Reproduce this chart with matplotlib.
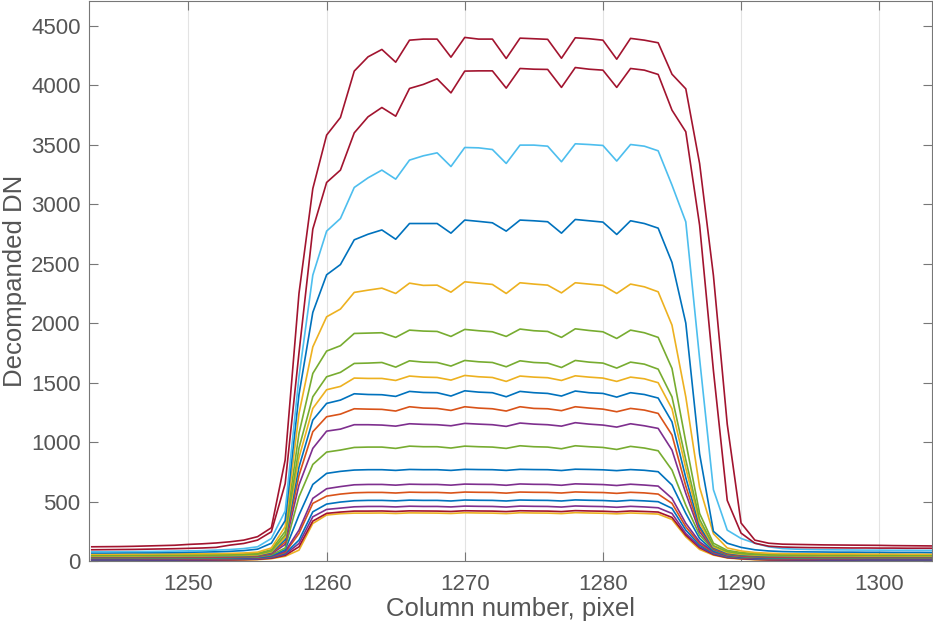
import numpy as np
import matplotlib
matplotlib.use("Agg")
import matplotlib.pyplot as plt

# column numbers (pixels)
cols = np.arange(1243, 1305)

# MATLAB default colour order
BLUE = '#0072BD'
ORANGE = '#D95319'
YELLOW = '#EDB120'
PURPLE = '#7E2F8E'
GREEN = '#77AC30'
LBLUE = '#4DBEEE'
RED = '#A2142F'

# each profile: 1243..1256 | 1257..1259 | 1260..1284 | 1285..1292 | 1293..1304
red_1 = [120, 121, 122, 124, 127, 130, 133, 140, 145, 152, 162, 176, 205, 280,
         850, 2250, 3130,
         3580, 3728, 4118, 4238, 4300, 4193, 4378, 4387, 4387, 4235, 4401, 4387, 4387,
         4224, 4395, 4390, 4385, 4226, 4398, 4390, 4378, 4218, 4393, 4378, 4356,
         4092, 3969, 3341, 2400, 1150, 320, 176, 150,
         142, 140, 138, 136, 135, 134, 133, 132, 130, 129, 128, 127]
red_2 = [95, 96, 97, 98, 100, 102, 104, 107, 110, 115, 134, 148, 176, 246,
         650, 1750, 2790,
         3182, 3286, 3599, 3734, 3812, 3739, 3972, 4006, 4053, 3935, 4118, 4120, 4120,
         3975, 4140, 4134, 4132, 3981, 4148, 4134, 4126, 3981, 4140, 4126, 4090,
         3790, 3608, 2823, 1600, 510, 235, 150, 125,
         118, 115, 113, 112, 111, 110, 110, 109, 109, 108, 108, 108]
lblue_1 = [78, 78, 79, 80, 81, 82, 84, 86, 88, 92, 97, 105, 120, 190,
           420, 1550, 2403,
           2773, 2879, 3140, 3221, 3286, 3210, 3370, 3406, 3431, 3316, 3476, 3473, 3459,
           3342, 3496, 3496, 3487, 3356, 3507, 3501, 3493, 3362, 3501, 3487, 3448,
           3160, 2851, 1700, 600, 260, 190, 150, 120,
           105, 100, 97, 95, 94, 93, 92, 92, 91, 91, 90, 90]
blue_1 = [68, 68, 69, 70, 70, 71, 72, 74, 76, 78, 82, 88, 100, 150,
          340, 1400, 2090,
          2406, 2492, 2700, 2747, 2783, 2705, 2837, 2837, 2837, 2756, 2866, 2855, 2843,
          2773, 2866, 2860, 2852, 2756, 2871, 2860, 2849, 2745, 2860, 2837, 2798,
          2510, 2000, 900, 250, 150, 115, 95, 85,
          80, 78, 77, 76, 75, 75, 74, 74, 73, 73, 73, 72]
yellow_1 = [58, 58, 58, 59, 59, 60, 60, 61, 62, 63, 65, 68, 75, 110,
            290, 1240, 1800,
            2053, 2118, 2258, 2277, 2294, 2249, 2336, 2317, 2319, 2260, 2347, 2336, 2325,
            2249, 2339, 2328, 2319, 2254, 2339, 2328, 2317, 2249, 2328, 2305, 2263,
            1983, 1380, 620, 230, 110, 85, 72, 66,
            63, 62, 61, 60, 60, 60, 59, 59, 59, 58, 58, 58]
green_1 = [52, 52, 52, 53, 53, 53, 54, 54, 55, 56, 57, 60, 65, 95,
           250, 1073, 1577,
           1765, 1810, 1913, 1916, 1919, 1880, 1941, 1933, 1930, 1888, 1947, 1936, 1927,
           1888, 1950, 1936, 1930, 1880, 1952, 1938, 1927, 1871, 1941, 1919, 1880,
           1619, 1000, 400, 150, 90, 72, 62, 58,
           56, 55, 54, 54, 53, 53, 53, 52, 52, 52, 52, 52]
green_2 = [46, 46, 46, 47, 47, 47, 48, 48, 49, 50, 51, 53, 58, 85,
           220, 950, 1381,
           1549, 1586, 1661, 1664, 1669, 1630, 1683, 1672, 1669, 1639, 1686, 1675, 1669,
           1633, 1683, 1669, 1664, 1627, 1686, 1672, 1664, 1622, 1672, 1655, 1613,
           1380, 850, 350, 130, 80, 63, 55, 51,
           50, 49, 48, 48, 47, 47, 47, 46, 46, 46, 46, 46]
yellow_2 = [42, 42, 42, 42, 43, 43, 43, 44, 44, 45, 46, 48, 52, 78,
            200, 870, 1283,
            1440, 1468, 1538, 1535, 1535, 1518, 1555, 1546, 1543, 1521, 1560, 1549, 1543,
            1510, 1555, 1546, 1541, 1518, 1557, 1546, 1538, 1510, 1546, 1532, 1499,
            1280, 780, 320, 120, 72, 57, 50, 46,
            45, 44, 44, 43, 43, 43, 42, 42, 42, 42, 42, 42]
blue_2 = [38, 38, 38, 38, 39, 39, 39, 40, 40, 41, 42, 44, 48, 72,
          180, 790, 1185,
          1325, 1353, 1406, 1400, 1398, 1384, 1426, 1417, 1415, 1387, 1431, 1420, 1415,
          1381, 1426, 1415, 1409, 1387, 1429, 1415, 1409, 1378, 1415, 1400, 1370,
          1170, 700, 290, 112, 66, 52, 45, 42,
          41, 40, 40, 39, 39, 39, 38, 38, 38, 38, 38, 38]
orange_1 = [34, 34, 34, 34, 35, 35, 35, 36, 36, 37, 38, 40, 44, 66,
            160, 720, 1087,
            1213, 1235, 1280, 1277, 1275, 1261, 1297, 1286, 1283, 1266, 1297, 1286, 1280,
            1261, 1297, 1283, 1280, 1264, 1297, 1286, 1277, 1255, 1283, 1269, 1241,
            1060, 630, 270, 105, 60, 47, 41, 38,
            37, 36, 36, 35, 35, 35, 34, 34, 34, 34, 34, 34]
purple_1 = [30, 30, 30, 30, 31, 31, 31, 32, 32, 33, 34, 36, 40, 60,
            140, 640, 947,
            1092, 1109, 1146, 1146, 1143, 1134, 1154, 1149, 1146, 1137, 1157, 1151, 1146,
            1132, 1160, 1151, 1146, 1134, 1163, 1151, 1143, 1126, 1154, 1137, 1115,
            933, 569, 246, 100, 56, 43, 37, 34,
            33, 32, 32, 31, 31, 31, 30, 30, 30, 30, 30, 30]
green_3 = [26, 26, 26, 26, 27, 27, 27, 28, 28, 29, 30, 32, 35, 52,
           110, 540, 812,
           916, 933, 955, 958, 958, 947, 966, 961, 961, 950, 966, 961, 958,
           947, 969, 961, 958, 944, 969, 961, 955, 938, 964, 950, 927,
           765, 470, 218, 95, 52, 39, 33, 30,
           29, 28, 28, 27, 27, 27, 26, 26, 26, 26, 26, 26]
blue_3 = [22, 22, 22, 22, 23, 23, 23, 24, 24, 25, 26, 28, 31, 45,
          95, 387, 644,
          737, 754, 765, 768, 768, 762, 770, 768, 768, 762, 771, 769, 768,
          762, 771, 769, 768, 761, 772, 770, 767, 760, 769, 763, 751,
          639, 401, 190, 85, 48, 35, 29, 26,
          25, 24, 24, 23, 23, 23, 22, 22, 22, 22, 22, 22]
purple_2 = [18, 18, 18, 18, 19, 19, 19, 20, 20, 21, 22, 24, 27, 40,
            82, 260, 527,
            608, 626, 641, 644, 644, 638, 646, 644, 644, 638, 647, 645, 644,
            637, 648, 645, 644, 637, 649, 646, 643, 635, 646, 639, 630,
            527, 317, 162, 78, 44, 32, 26, 22,
            21, 20, 20, 19, 19, 19, 18, 18, 18, 18, 18, 18]
orange_2 = [15, 15, 15, 15, 16, 16, 16, 17, 17, 18, 19, 21, 24, 36,
            72, 232, 485,
            546, 563, 574, 577, 577, 572, 579, 577, 577, 572, 580, 578, 577,
            571, 580, 578, 577, 572, 581, 578, 576, 569, 578, 573, 563,
            485, 288, 148, 72, 40, 29, 23, 19,
            18, 17, 17, 16, 16, 16, 15, 15, 15, 15, 15, 15]
blue_4 = [12, 12, 12, 12, 13, 13, 13, 14, 14, 15, 16, 18, 21, 32,
          64, 176, 414,
          479, 496, 507, 510, 510, 506, 512, 510, 510, 505, 513, 511, 510,
          505, 513, 511, 510, 505, 514, 511, 509, 503, 511, 506, 499,
          443, 260, 134, 66, 36, 26, 20, 16,
          15, 14, 14, 13, 13, 13, 12, 12, 12, 12, 12, 12]
purple_3 = [9, 9, 9, 9, 10, 10, 10, 11, 11, 12, 13, 15, 18, 28,
            56, 148, 372,
            434, 445, 456, 459, 459, 455, 461, 459, 459, 455, 462, 460, 459,
            454, 462, 460, 459, 454, 463, 460, 458, 452, 460, 455, 448,
            400, 232, 120, 60, 32, 23, 17, 13,
            12, 11, 11, 10, 10, 10, 9, 9, 9, 9, 9, 9]
red_3 = [6, 6, 6, 6, 7, 7, 7, 8, 8, 9, 10, 12, 15, 24,
         48, 120, 336,
         401, 412, 420, 420, 421, 417, 422, 421, 420, 417, 423, 421, 420,
         416, 423, 421, 420, 416, 424, 421, 419, 414, 421, 417, 412,
         367, 218, 112, 55, 29, 20, 14, 10,
         9, 8, 8, 7, 7, 7, 6, 6, 6, 6, 6, 6]
yellow_3 = [3, 3, 3, 3, 4, 4, 4, 5, 5, 6, 7, 9, 12, 20,
            40, 92, 316,
            387, 398, 403, 403, 404, 400, 405, 404, 403, 400, 406, 404, 403,
            399, 406, 404, 403, 399, 407, 404, 402, 397, 404, 400, 395,
            350, 204, 98, 50, 26, 17, 11, 8,
            7, 6, 6, 5, 5, 5, 4, 4, 4, 4, 4, 4]

profiles = [yellow_3, red_3, purple_3, blue_4, orange_2, purple_2, blue_3,
            green_3, purple_1, orange_1, blue_2, yellow_2, green_2, green_1,
            yellow_1, blue_1, lblue_1, red_2, red_1]
colors = [YELLOW, RED, PURPLE, BLUE, ORANGE, PURPLE, BLUE,
          GREEN, PURPLE, ORANGE, BLUE, YELLOW, GREEN, GREEN,
          YELLOW, BLUE, LBLUE, RED, RED]

plt.rcParams['font.family'] = ['Liberation Sans', 'DejaVu Sans']
txt = '#555555'

fig = plt.figure(figsize=(9.33, 6.29), dpi=100)
ax = fig.add_axes([0.0954, 0.108, 0.9032, 0.890])

for prof, c in zip(profiles, colors):
    ax.plot(cols, prof, color=c, lw=1.2)

ax.set_xlim(1242.8, 1303.8)
ax.set_ylim(0, 4705)
ax.set_xticks([1250, 1260, 1270, 1280, 1290, 1300])
ax.set_yticks(np.arange(0, 4501, 500))
ax.grid(axis='x', color='#e3e3e3', lw=0.8)
ax.set_axisbelow(True)

ax.tick_params(direction='in', length=6.5, width=0.8, colors='#777777',
               labelcolor=txt, labelsize=16, top=True, right=True)
ax.tick_params(axis='x', pad=9.5)
ax.tick_params(axis='y', pad=6)
for s in ax.spines.values():
    s.set_color('#777777')
    s.set_linewidth(0.8)

ax.set_xlabel('Column number, pixel', fontsize=18.5, color=txt, labelpad=1)
ax.set_ylabel('Decompanded DN', fontsize=18.5, color=txt, labelpad=3)

fig.savefig('out.png', dpi=100)
